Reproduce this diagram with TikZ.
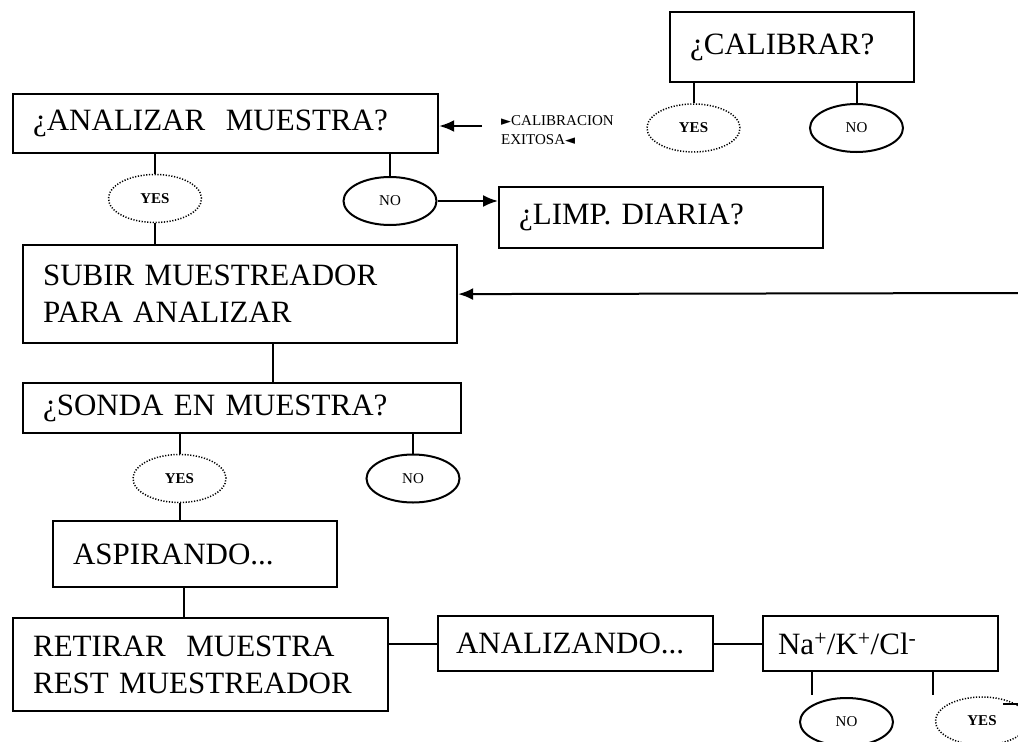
\documentclass[tikz,border=0pt]{standalone}
\usepackage{fontspec}
\setmainfont{Liberation Serif}
\newfontfamily\simbolos{DejaVu Sans}
\usepackage{tikz}
\usetikzlibrary{shapes.geometric,arrows.meta}
\newcommand{\letragrande}{\fontsize{31}{37}\selectfont}
\newcommand{\letrachica}{\fontsize{15}{19}\selectfont}
\tikzset{
  caja/.style={
    draw, rectangle, anchor=north west, line width=2.2pt, inner xsep=20pt,
    inner ysep=0pt, align=left, font=\letragrande
  },
  globo/.style={
    draw, ellipse, minimum width=93pt, minimum height=48pt, inner sep=0pt,
    line width=2pt, font=\letrachica
  },
  globop/.style={
    globo, line width=1.5pt, dash pattern=on 1.2pt off 1.6pt, font=\letrachica\bfseries
  },
  linea/.style={line width=2pt},
  flecha/.style={line width=2pt, -{Latex[length=15pt,width=12pt]}}
}

\begin{document}
\begin{tikzpicture}[x=1pt,y=-1pt]
 \useasboundingbox (0,0) rectangle (1018,742);

 \node[caja, text width=204pt, minimum height=70pt] (calib) at (669, 11) {¿CALIBRAR?};
 \node[globop] (calYes) at (693.5, 128) {YES};
 \node[globo] (calNo) at (856.5, 128) {NO};

 \node[caja, text width=385pt, minimum height=59pt] (analizar) at (12, 93) {¿ANALIZAR\ \ MUESTRA?};
 \node[globop] (anYes) at (155, 198.5) {YES};
 \node[globo] (anNo) at (390, 201) {NO};
 \node[caja, text width=284pt, minimum height=61pt] (limp) at (498, 186) {¿LIMP. DIARIA?};
 \coordinate (calOrigen) at (482, 126);
 \node[anchor=north west, inner sep=0pt, align=left, font=\letrachica] (calTexto) at (501, 115)
   {{\simbolos\fontsize{13}{19}\selectfont ►}CALIBRACION\\EXITOSA{\simbolos\fontsize{13}{19}\selectfont ◄}};

 \node[caja, text width=394pt, minimum height=98pt] (subir) at (22, 244) {SUBIR MUESTREADOR\\PARA ANALIZAR};
 \coordinate (subirOrigen) at (1018, 293);

 \node[caja, text width=398pt, minimum height=50pt] (sonda) at (22, 382) {¿SONDA EN MUESTRA?};
 \node[globop] (soYes) at (179.5, 478.5) {YES};
 \node[globo] (soNo) at (413, 478.5) {NO};

 \node[caja, text width=244pt, minimum height=66pt] (aspir) at (52, 520) {ASPIRANDO...};
 \node[caja, text width=335pt, minimum height=93pt] (retirar) at (12, 617) {RETIRAR\ \ MUESTRA\\REST MUESTREADOR};
 \node[caja, text width=239pt, minimum height=55pt, inner xsep=18pt] (analiz) at (437, 615) {ANALIZANDO...};
 \node[caja, text width=205pt, minimum height=55pt, inner xsep=15pt] (na) at (762, 615)
   {Na\textsuperscript{+}/K\textsuperscript{+}/Cl\textsuperscript{-}};
 \node[globo] (naNo) at (846.5, 722) {NO};
 \node[globop] (naYes) at (982, 721) {YES};
 \coordinate (naNoFin) at (812, 695);
 \coordinate (naYesFin) at (933, 695);
 \coordinate (yesIni) at (1003, 704);
 \coordinate (yesFin) at (1018, 704);

 % calibrar
 \draw[linea] (calib.south -| calYes.north) -- (calYes.north);
 \draw[linea] (calib.south -| calNo.north) -- (calNo.north);
 \draw[flecha] (calOrigen) -- (calOrigen -| analizar.east);

 % analizar muestra
 \draw[linea] (analizar.south -| anYes.north) -- (anYes.north);
 \draw[linea] (anYes.south) -- (anYes.south |- subir.north);
 \draw[linea] (analizar.south -| anNo.north) -- (anNo.north);
 \draw[flecha] (anNo.east) -- (anNo.east -| limp.west);
 \draw[flecha] (subirOrigen) -- (subir.east);

 % sonda
 \draw[linea] (subir.south -| 273, 0) -- (sonda.north -| 273, 0);
 \draw[linea] (sonda.south -| soYes.north) -- (soYes.north);
 \draw[linea] (sonda.south -| soNo.north) -- (soNo.north);
 \draw[linea] (soYes.south) -- (soYes.south |- aspir.north);
 \draw[linea] (aspir.south -| 184, 0) -- (retirar.north -| 184, 0);

 % analisis
 \draw[linea] (analiz.west -| retirar.east) -- (analiz.west);
 \draw[linea] (analiz.east) -- (na.west);
 \draw[linea] (na.south -| naNoFin) -- (naNoFin);
 \draw[linea] (na.south -| naYesFin) -- (naYesFin);
 \draw[linea] (yesIni) -- (yesFin);

\end{tikzpicture}
\end{document}
